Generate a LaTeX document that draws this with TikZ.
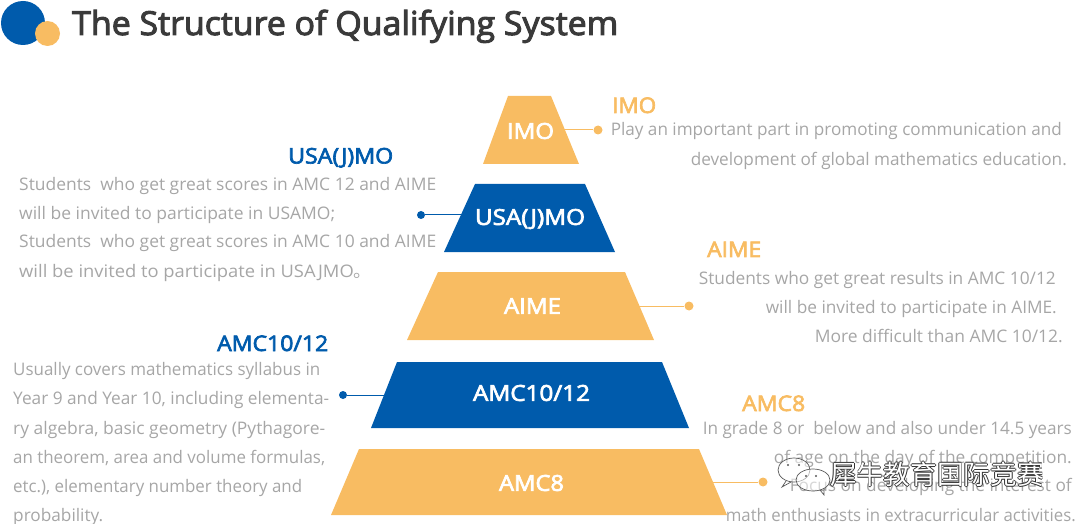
\documentclass[tikz,border=0pt]{standalone}
\usepackage{graphicx}
\usepackage{fontspec}
\setmainfont{Open Sans}
\newfontfamily\medfont[FakeBold=3]{Open Sans}
\newfontfamily\titlefont[FakeBold=3]{Open Sans}
\newfontfamily\cjkwm{Noto Sans CJK SC}
\definecolor{qblue}{HTML}{005BAC}
\definecolor{qorange}{HTML}{F8BC62}
\definecolor{qgray}{HTML}{A6A6A6}
\definecolor{qtitle}{HTML}{3A3A3A}
\newcommand{\wmtext}{\fontsize{26.7}{26.7}\selectfont\cjkwm 犀牛教育国际竞赛}
\newcommand{\fw}[2]{\resizebox{#1pt}{\height}{#2}}
\tikzset{
  body/.style={inner sep=0pt,anchor=base west,text=qgray,font=\fontsize{17.3}{17.3}\selectfont},
  bodyr/.style={body,anchor=base east},
  head/.style={inner sep=0pt,anchor=base west,font=\fontsize{21.5}{21.5}\medfont},
  lab/.style={inner sep=0pt,text=white,font=\fontsize{22}{22}\medfont},
  dotb/.style={circle,fill=qblue,inner sep=0pt,minimum size=8pt},
  doto/.style={circle,fill=qorange,inner sep=0pt,minimum size=9pt},
  lineb/.style={draw=qblue,line width=1pt},
  lineo/.style={draw=qorange,line width=1pt},
  wm/.style={inner sep=0pt,anchor=base west},
  bubble/.style={draw=black!65,fill=white,fill opacity=0.55,line width=0.7pt}
}
\begin{document}
\begin{tikzpicture}[x=1pt,y=-1pt]
\useasboundingbox (0,0) rectangle (1080,524);
% title
\fill[qblue] (23,23) circle (22);
\fill[qorange] (47.5,33.5) circle (12.5);
\node[inner sep=0pt,anchor=base west,text=qtitle,font=\fontsize{33}{33}\titlefont] (title) at (72,35) {\fw{546}{The Structure of Qualifying System}};
% pyramid
\fill[qorange] (508,96) -- (551,96) -- (579,164) -- (483,164) -- cycle;
\fill[qblue] (475,184) -- (585,184) -- (615,252) -- (444,252) -- cycle;
\fill[qorange] (438,272) -- (625,272) -- (654,340) -- (407,340) -- cycle;
\fill[qblue] (397,362) -- (662,362) -- (689,428) -- (371,428) -- cycle;
\fill[qorange] (359,449) -- (699,449) -- (727,515) -- (331,515) -- cycle;
\node[lab] (imo) at (530.5,131) {\fw{47}{IMO}};
\node[lab] (usa) at (530,219) {\fw{110}{USA(J)MO}};
\node[lab] (aime) at (532.5,306) {\fw{57}{AIME}};
\node[lab] (amc) at (531.5,393) {\fw{117}{AMC10/12}};
\node[lab] (amc8) at (531.5,483) {\fw{65}{AMC8}};
% connectors
\coordinate (imoe) at (564,130);
\coordinate (usae) at (461,215);
\coordinate (aimee) at (639,306);
\coordinate (amce) at (384,395);
\coordinate (amc8e) at (712,482);
\node[doto] (d1) at (598,130) {};
\node[dotb] (d2) at (421,215) {};
\node[doto] (d3) at (689,306) {};
\node[dotb] (d4) at (343,395) {};
\node[doto] (d5) at (763,482) {};
\draw[lineo] (imoe) -- (d1);
\draw[lineb] (usae) -- (d2);
\draw[lineo] (aimee) -- (d3);
\draw[lineb] (amce) -- (d4);
\draw[lineo] (amc8e) -- (d5);
% IMO text
\node[head,text=qorange] (h1) at (612,113) {\fw{44}{IMO}};
\node[bodyr] at (1062,136) {\fw{451}{Play an important part in promoting communication and}};
\node[bodyr] at (1067,166) {\fw{376}{development of global mathematics education.}};
% USA(J)MO text
\node[head,text=qblue] (h2) at (288,163.5) {\fw{105}{USA(J)MO}};
\node[body] at (19,191) {\fw{417}{Students\ \ who get great scores in AMC 12 and AIME}};
\node[body] at (19,220) {\fw{316}{will be invited to participate in USAMO;}};
\node[body] at (19,248) {\fw{417}{Students\ \ who get great scores in AMC 10 and AIME}};
\node[body] at (19,277) {\fw{353}{will be invited to participate in USAJMO{\cjkwm 。}}};
% AIME text
\node[head,text=qorange] (h3) at (707,257) {\fw{54}{AIME}};
\node[bodyr] at (1056,284) {\fw{357}{Students who get great results in AMC 10/12}};
\node[bodyr] at (1057,313) {\fw{291}{will be invited to participate in AIME.}};
\node[bodyr] at (1063,342) {\fw{248}{More difficult than AMC 10/12.}};
% AMC10/12 text
\node[head,text=qblue] (h4) at (217,351) {\fw{111}{AMC10/12}};
\node[body] at (13,375) {\fw{307}{Usually covers mathematics syllabus in}};
\node[body] at (13,404) {\fw{316}{Year 9 and Year 10, including elementa-}};
\node[body] at (13,434) {\fw{312}{ry algebra, basic geometry (Pythagore-}};
\node[body] at (13,463) {\fw{312}{an theorem, area and volume formulas,}};
\node[body] at (13,492) {\fw{289}{etc.), elementary number theory and}};
\node[body] at (13,521) {\fw{90}{probability.}};
% AMC8 text
\node[head,text=qorange] (h5) at (742,411) {\fw{63}{AMC8}};
\node[bodyr] at (1072,434) {\fw{369}{In grade 8 or\ \ below and also under 14.5 years}};
\node[bodyr] at (1072,463) {\fw{298}{of age on the day of the competition.}};
\node[bodyr] at (1072,491) {\fw{282}{Focus on developing the interest of}};
\node[bodyr] at (1076,521) {\fw{350}{math enthusiasts in extracurricular activities.}};
% watermark
\foreach \dx/\dy in {-0.8/0,0.8/0,0/-0.8,0/0.8}{
  \node[wm,text=black!80] at (830+\dx,484.5+\dy) {\wmtext};
}
\node[wm,text=white] (wmk) at (830,484.5) {\wmtext};
\draw[bubble] (794,470) ellipse (16 and 12);
\draw[black!65,line width=0.7pt] (786,481) -- (782,487) -- (791,482);
\draw[bubble] (813,480) ellipse (17 and 11);
\draw[black!65,line width=0.7pt] (820,490) -- (824,495) -- (824,488);
\fill[black!65] (788,465) circle (1.2) (799,465) circle (1.2) (806,476) circle (1.2) (816,476) circle (1.2);
\end{tikzpicture}
\end{document}
